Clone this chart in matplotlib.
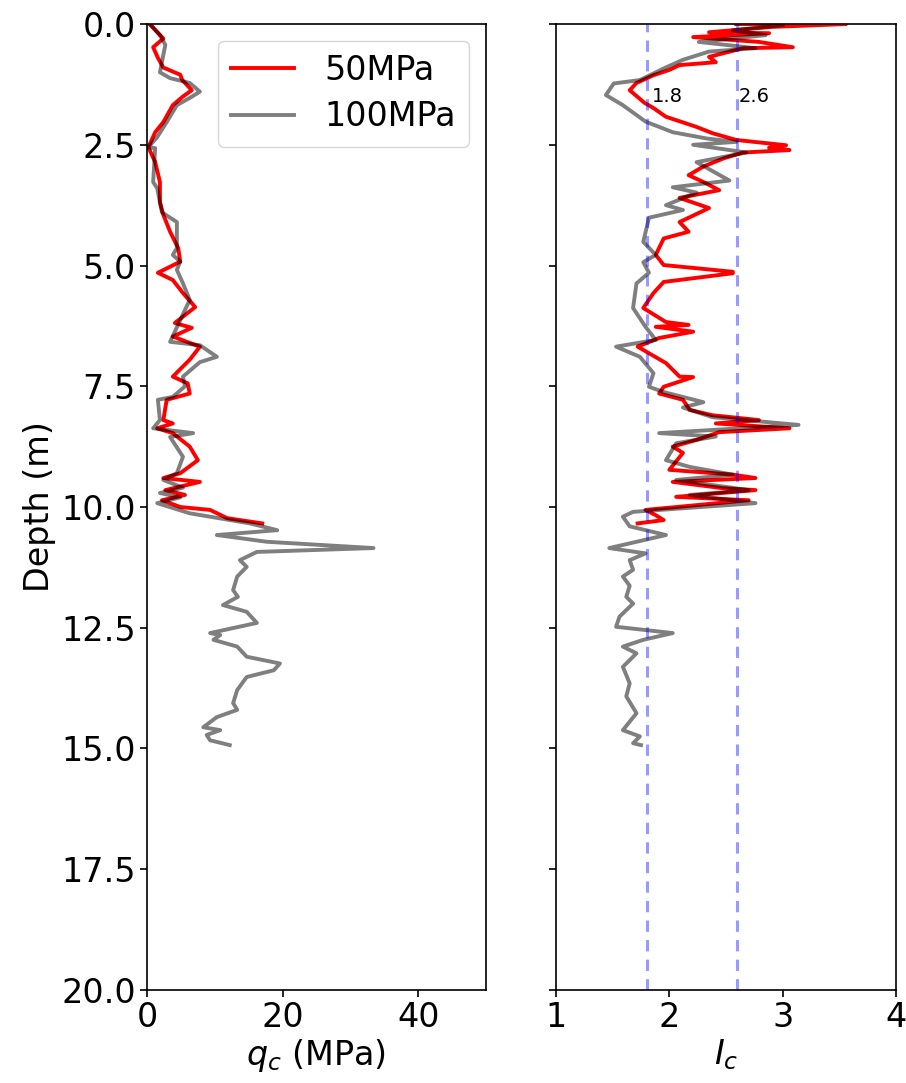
import matplotlib
matplotlib.use("Agg")
import matplotlib.pyplot as plt

# ---- data: left panel (qc, MPa) ----
qc50_depth = [0.0, 0.3, 0.48, 0.7, 0.9, 1.05, 1.16, 1.37, 1.5, 1.68, 2.03, 2.24, 2.55, 2.86, 3.27, 3.69, 3.95,
              4.3, 4.64, 4.92, 5.15, 5.3, 5.57, 5.86, 6.19, 6.29, 6.47, 6.68, 6.95, 7.3, 7.44, 7.65, 7.78,
              8.2, 8.27, 8.37, 8.47, 8.75, 9.03, 9.3, 9.4, 9.48, 9.65, 9.75, 9.86, 10.0, 10.06, 10.23, 10.34]
qc50 = [0.4, 2.4, 0.9, 1.6, 2.4, 4.9, 5.2, 6.6, 5.3, 3.8, 2.4, 1.2, 0.2, 1.2, 1.9, 1.9, 2.4,
        3.4, 4.6, 4.9, 1.6, 3.8, 5.3, 7.1, 4.1, 6.6, 3.8, 7.8, 6.3, 3.8, 6.0, 6.3, 2.9,
        2.4, 3.8, 1.5, 3.8, 6.3, 7.5, 4.9, 2.4, 7.8, 2.7, 5.6, 2.2, 4.9, 9.3, 11.8, 17.0]

qc100_depth = [0.0, 0.23, 0.43, 1.0, 1.12, 1.22, 1.4, 1.53, 1.68, 2.03, 2.34, 2.55, 2.57, 3.27, 3.4, 3.9, 4.1,
               4.64, 4.78, 4.92, 5.09, 5.37, 5.71, 6.13, 6.58, 6.65, 6.89, 7.0, 7.3, 7.5, 7.72, 7.78,
               8.2, 8.37, 8.47, 8.55, 8.96, 9.3, 9.44, 9.6, 9.71, 9.8, 9.92, 10.13, 10.34, 10.48,
               10.58, 10.72, 10.85, 10.93, 11.1, 11.24, 11.44, 11.72, 11.86, 12.03, 12.17, 12.4,
               12.61, 12.65, 12.75, 12.89, 13.1, 13.24, 13.38, 13.52, 13.79, 14.06, 14.2, 14.35,
               14.56, 14.62, 14.72, 14.83, 14.93]
qc100 = [0.4, 1.9, 2.7, 1.9, 3.4, 6.3, 7.8, 6.3, 4.4, 2.9, 1.5, 0.2, 1.2, 0.9, 1.5, 2.2, 4.4,
         4.4, 3.8, 4.9, 4.4, 5.3, 6.3, 4.9, 3.4, 7.8, 10.3, 7.8, 5.3, 5.6, 3.8, 1.6,
         1.9, 0.9, 6.8, 3.4, 5.3, 4.4, 2.4, 5.3, 1.9, 4.9, 1.5, 6.3, 15.2, 19.2,
         10.3, 17.7, 33.4, 16.2, 13.7, 14.7, 13.3, 12.7, 13.4, 11.2, 14.7, 16.2,
         9.3, 10.8, 9.8, 13.3, 14.7, 19.6, 18.7, 14.7, 13.3, 12.7, 13.3, 10.3,
         8.3, 10.8, 8.8, 9.3, 12.2]

# ---- data: right panel (Ic) ----
ic50_depth = [0.0, 0.0, 0.06, 0.17, 0.19, 0.27, 0.37, 0.48, 0.5, 0.68, 0.79, 0.85, 0.95, 1.06, 1.22, 1.37,
              1.63, 1.74, 1.92, 2.13, 2.26, 2.4, 2.51, 2.56, 2.61, 2.66, 2.78, 2.95, 3.13, 3.27, 3.44, 3.6,
              3.81, 4.1, 4.3, 4.44, 4.78, 4.99, 5.13, 5.16, 5.34, 5.57, 5.88, 6.17, 6.23, 6.27, 6.37, 6.5,
              6.68, 7.02, 7.3, 7.31, 7.51, 7.65, 7.78, 7.99, 8.1, 8.2, 8.27, 8.37, 8.45, 8.61, 8.75,
              8.88, 9.23, 9.33, 9.4, 9.48, 9.61, 9.65, 9.79, 9.86, 10.06, 10.17, 10.27, 10.34]
ic50 = [2.59, 3.56, 2.9, 2.35, 2.88, 2.21, 2.79, 3.09, 2.65, 2.35, 2.41, 2.09, 2.0, 1.86, 1.71, 1.65,
        1.78, 1.86, 1.97, 2.24, 2.38, 2.59, 3.03, 2.88, 3.06, 2.65, 2.48, 2.3, 2.17, 2.3, 2.44, 2.09,
        2.35, 2.09, 2.17, 1.95, 1.88, 1.95, 2.56, 2.56, 1.95, 1.86, 1.77, 1.97, 2.17, 1.88, 2.21, 1.91,
        1.72, 1.97, 2.09, 2.21, 1.95, 1.91, 2.12, 2.18, 2.38, 2.79, 2.41, 3.06, 2.44, 2.24, 2.03,
        2.12, 2.0, 2.56, 2.76, 2.03, 2.47, 2.76, 2.06, 2.7, 1.79, 1.88, 1.95, 1.72]

ic100_depth = [0.02, 0.13, 0.23, 0.37, 0.5, 0.57, 0.74, 0.92, 1.16, 1.23, 1.47, 1.68, 2.02, 2.24, 2.37,
               2.44, 2.5, 2.66, 2.86, 3.24, 3.38, 3.49, 3.75, 3.85, 4.01, 4.51, 4.78, 4.93, 5.15, 5.37,
               5.88, 6.27, 6.54, 6.68, 6.89, 7.23, 7.51, 7.62, 7.83, 7.94, 8.14, 8.3, 8.47, 8.54, 8.68,
               9.03, 9.17, 9.33, 9.44, 9.65, 9.75, 9.92, 10.1, 10.2, 10.4, 10.58, 10.85, 10.96, 11.1,
               11.3, 11.44, 11.63, 11.86, 12.0, 12.27, 12.48, 12.61, 12.75, 12.89, 13.03, 13.31, 13.65,
               13.92, 14.27, 14.62, 14.75, 14.89, 14.93]
ic100 = [3.0, 2.56, 2.85, 2.26, 2.76, 2.35, 2.12, 1.95, 1.74, 1.51, 1.44, 1.59, 1.79, 2.03, 2.33,
         2.59, 2.21, 2.68, 2.24, 2.53, 2.03, 2.24, 1.97, 2.12, 1.82, 1.77, 1.88, 1.77, 1.82, 1.71,
         1.68, 1.79, 1.88, 1.53, 1.74, 1.86, 1.82, 1.95, 2.3, 2.12, 2.38, 3.14, 1.91, 2.41, 2.06,
         1.97, 2.18, 2.56, 2.06, 2.7, 2.18, 2.76, 1.68, 1.59, 1.65, 1.97, 1.47, 1.79, 1.65,
         1.68, 1.59, 1.65, 1.62, 1.68, 1.56, 1.53, 2.03, 1.77, 1.59, 1.71, 1.59, 1.65,
         1.62, 1.71, 1.59, 1.74, 1.68, 1.75]

series_labels = ["50MPa", "100MPa"]
ic_thresholds = [1.8, 2.6]
threshold_label_x = [1.85, 2.615]

FS = 24
LW = 2.8
plt.rcParams["axes.linewidth"] = 1.2
fig = plt.figure(figsize=(9.06, 10.83), dpi=100)
ax1 = fig.add_axes([0.1623, 0.0859, 0.3741, 0.8919])
ax2 = fig.add_axes([0.6137, 0.0859, 0.3753, 0.8919], sharey=ax1)

ax1.plot(qc50, qc50_depth, color="red", lw=LW, label=series_labels[0])
ax1.plot(qc100, qc100_depth, color="k", alpha=0.5, lw=LW, label=series_labels[1])
ax1.set_xlim(0, 50)
ax1.set_ylim(20, 0)
ax1.set_xticks([0, 20, 40])
ax1.set_yticks([0, 2.5, 5, 7.5, 10, 12.5, 15, 17.5, 20])
ax1.set_xlabel("$q_c$ (MPa)", fontsize=FS, labelpad=2)
ax1.set_ylabel("Depth (m)", fontsize=FS, labelpad=4)
ax1.tick_params(labelsize=FS, length=5, width=1.2, pad=3)
ax1.legend(loc="upper right", fontsize=FS, handlelength=1.9, borderpad=0.4,
           handletextpad=0.9, labelspacing=0.4)

ax2.plot(ic50, ic50_depth, color="red", lw=LW)
ax2.plot(ic100, ic100_depth, color="k", alpha=0.5, lw=LW)
for t, tx in zip(ic_thresholds, threshold_label_x):
    ax2.axvline(t, color="blue", alpha=0.4, ls="--", lw=2.2, dashes=(3.7, 2.7))
    ax2.text(tx, 1.5, f"{t}", fontsize=14, va="center", ha="left")
ax2.set_xlim(1, 4)
ax2.set_xticks([1, 2, 3, 4])
ax2.set_xlabel("$I_c$", fontsize=FS, labelpad=2)
ax2.tick_params(labelsize=FS, labelleft=False, length=5, width=1.2, pad=3)

fig.savefig("out.png", dpi=100)
